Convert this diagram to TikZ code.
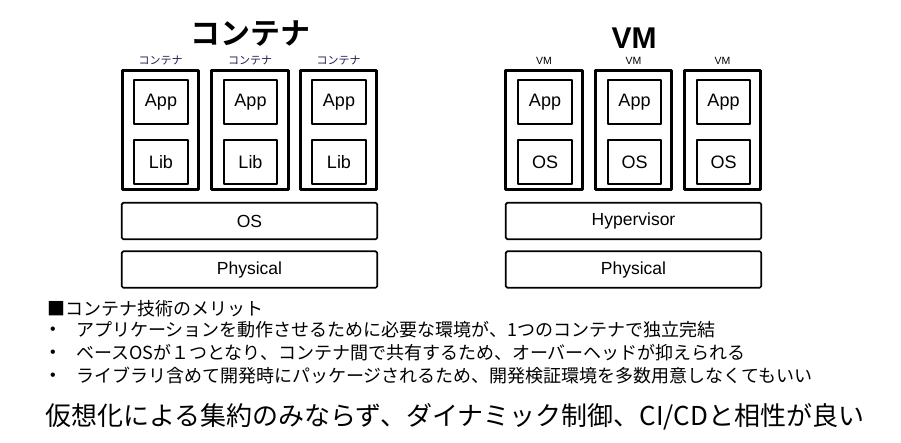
\documentclass[tikz,border=0pt]{standalone}
\usepackage{fontspec}
\setmainfont{Liberation Sans}
\newfontfamily\jp{Noto Sans CJK JP}[BoldFont={Noto Sans CJK JP Bold}]
\definecolor{tagblue}{RGB}{30,30,80}
\tikzset{
  cont/.style={draw,line width=2.6pt,minimum width=76.5pt,minimum height=119.5pt,inner sep=0pt},
  part/.style={draw,line width=1.7pt,minimum width=53.5pt,minimum height=44.4pt,inner sep=0pt,font=\fontsize{18}{18}\selectfont},
  layer/.style={draw,line width=1.7pt,rounded corners=1.5pt,minimum width=255.5pt,minimum height=36.4pt,inner sep=0pt,font=\fontsize{17.5}{18}\selectfont},
  tag/.style={font=\jp\fontsize{11}{11}\selectfont,text=tagblue,inner sep=0pt},
  vmtag/.style={font=\fontsize{10.5}{11}\selectfont,inner sep=0pt},
  title/.style={font=\jp\bfseries\fontsize{30}{30}\selectfont,inner sep=0pt},
  vmtitle/.style={font=\bfseries\fontsize{30}{30}\selectfont,inner sep=0pt},
  merit/.style={anchor=west,font=\jp\fontsize{18}{18}\selectfont,inner sep=0pt},
  dot/.style={font=\fontsize{16}{16}\selectfont,inner sep=0pt}
}
\begin{document}
\begin{tikzpicture}[x=1pt,y=-1pt,line join=round]
\useasboundingbox (0,0) rectangle (901,442);
% titles
\node[title] (ctitle) at (250,34) {コンテナ};
\node[vmtitle] (vtitle) at (634,38) {VM};
% containers
\node[cont] (c1) at (160.5,130) {};
\node[cont] (c2) at (250,130) {};
\node[cont] (c3) at (338.5,130) {};
\node[tag] at (160.5,61) {コンテナ};
\node[tag] at (250,61) {コンテナ};
\node[tag] at (338.5,61) {コンテナ};
\node[part] (c1app) at (161,102) {App};
\node[part] (c2app) at (250.5,102) {App};
\node[part] (c3app) at (339,102) {App};
\node[part] (c1lib) at (161,162) {Lib};
\node[part] (c2lib) at (250.5,162) {Lib};
\node[part] (c3lib) at (339,162) {Lib};
\node[layer] (cos) at (249.5,221) {OS};
\node[layer] (cphys) at (249.5,269.5) {Physical};
% virtual machines
\node[cont] (v1) at (544,130) {};
\node[cont] (v2) at (633.5,130) {};
\node[cont] (v3) at (722.5,130) {};
\node[vmtag] at (544,61) {VM};
\node[vmtag] at (633.5,61) {VM};
\node[vmtag] at (722.5,61) {VM};
\node[part] (v1app) at (545,102) {App};
\node[part] (v2app) at (634.5,102) {App};
\node[part] (v3app) at (723.5,102) {App};
\node[part] (v1os) at (545,162) {OS};
\node[part] (v2os) at (634.5,162) {OS};
\node[part] (v3os) at (723.5,162) {OS};
\node[layer] (vhyp) at (633.5,221) {Hypervisor};
\node[layer] (vphys) at (633.5,269.5) {Physical};
% merits
\node[merit] (head) at (47,309) {■コンテナ技術のメリット};
\node[dot] at (53,331) {•};
\node[dot] at (53,354) {•};
\node[dot] at (53,377) {•};
\node[merit] (m1) at (76,330) {アプリケーションを動作させるために必要な環境が、1つのコンテナで独立完結};
\node[merit] (m2) at (76,353) {ベースOSが１つとなり、コンテナ間で共有するため、オーバーヘッドが抑えられる};
\node[merit] (m3) at (76,376) {ライブラリ含めて開発時にパッケージされるため、開発検証環境を多数用意しなくてもいい};
\node[merit,font=\jp\fontsize{26}{26}\selectfont] (summary) at (45,417) {仮想化による集約のみならず、ダイナミック制御、CI/CDと相性が良い};
\end{tikzpicture}
\end{document}
